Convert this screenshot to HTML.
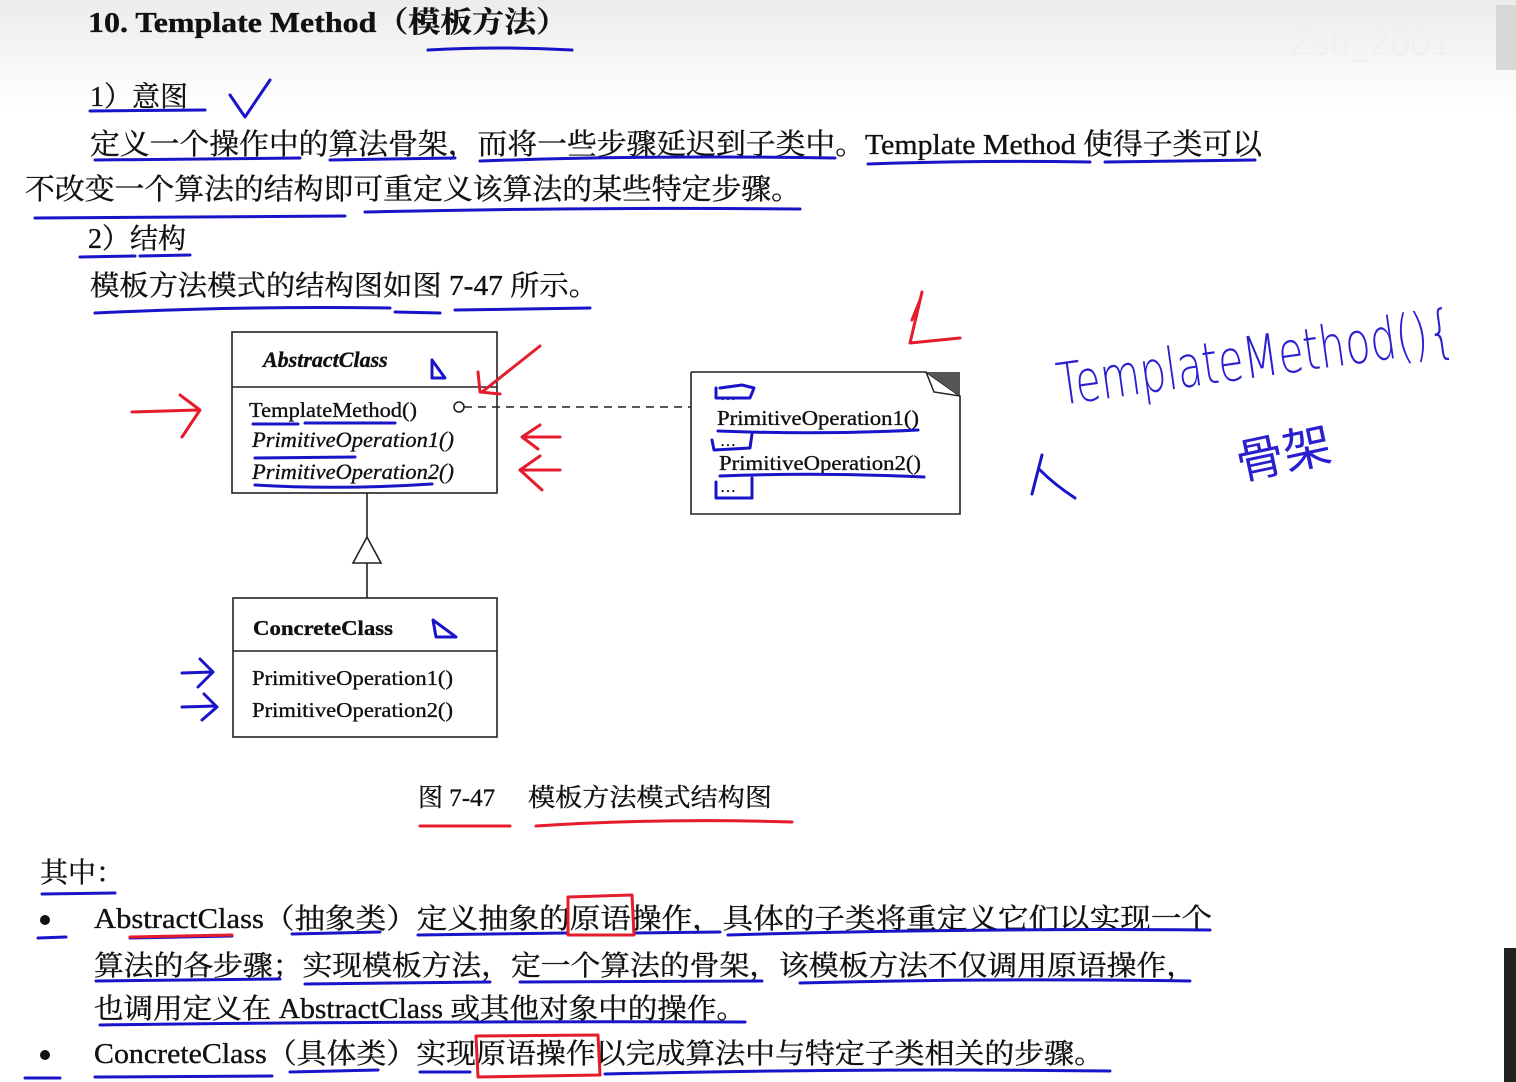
<!DOCTYPE html>
<html><head><meta charset="utf-8"><style>
html,body{margin:0;padding:0;background:#fff;}
svg{display:block;}
.t{font-family:"Liberation Serif","Noto Serif CJK SC",serif;fill:#111;stroke:#111;stroke-width:0.35;}
.b{stroke:#1a14c8;stroke-width:3;fill:none;stroke-linecap:round;stroke-linejoin:round;}
.r{stroke:#e41c2c;stroke-width:3;fill:none;stroke-linecap:round;stroke-linejoin:round;}
</style></head><body>
<svg width="1516" height="1082" viewBox="0 0 1516 1082" xmlns="http://www.w3.org/2000/svg">
<defs><linearGradient id="g" x1="0" y1="0" x2="0" y2="1"><stop offset="0" stop-color="#ececec"/><stop offset="1" stop-color="#fff"/></linearGradient></defs>
<rect width="1516" height="1082" fill="#fff"/>
<rect width="1516" height="110" fill="url(#g)"/>
<text x="1290" y="55" font-family="Liberation Sans,sans-serif" font-size="36" fill="#f0f0f0">Zsh_2001</text>
<rect x="1496" y="5" width="20" height="65" fill="#d8d8d8"/>
<rect x="1504" y="948" width="12" height="134" fill="#222"/>

<text class="t" x="88" y="32" font-size="29" font-weight="bold" textLength="480" lengthAdjust="spacingAndGlyphs">10.  Template Method（模板方法）</text>
<text class="t" x="90" y="106" font-size="28">1）意图</text>
<text class="t" x="90" y="154" font-size="29" textLength="1172" lengthAdjust="spacingAndGlyphs">定义一个操作中的算法骨架，而将一些步骤延迟到子类中。Template Method 使得子类可以</text>
<text class="t" x="25" y="199" font-size="29" textLength="776" lengthAdjust="spacingAndGlyphs">不改变一个算法的结构即可重定义该算法的某些特定步骤。</text>
<text class="t" x="88" y="248" font-size="28">2）结构</text>
<text class="t" x="90" y="295" font-size="28" textLength="508" lengthAdjust="spacingAndGlyphs">模板方法模式的结构图如图 7-47 所示。</text>

<g stroke="#222" stroke-width="1.6" fill="none">
<rect x="232" y="332" width="265" height="161"/>
<line x1="232" y1="387" x2="497" y2="387"/>
<rect x="233" y="598" width="264" height="139"/>
<line x1="233" y1="651" x2="497" y2="651"/>
<line x1="367" y1="493" x2="367" y2="537"/>
<polygon points="367,537 353,563 381,563"/>
<line x1="367" y1="563" x2="367" y2="598"/>
<polyline points="691,372 926,372 960,396 960,514 691,514 691,372"/>
<circle cx="459" cy="407" r="5"/>
<line x1="464" y1="407" x2="691" y2="407" stroke-dasharray="8,6"/>
</g>
<polygon points="926,372 960,372 960,396" fill="#555"/>
<polyline points="926,372 934,392 960,396" fill="none" stroke="#222" stroke-width="1.5"/>

<text class="t" x="263" y="367" font-size="22" font-style="italic" font-weight="bold">AbstractClass</text>
<text class="t" x="249" y="417" font-size="21" textLength="168" lengthAdjust="spacingAndGlyphs">TemplateMethod()</text>
<text class="t" x="252" y="447" font-size="22" font-style="italic" textLength="202" lengthAdjust="spacingAndGlyphs">PrimitiveOperation1()</text>
<text class="t" x="252" y="479" font-size="22" font-style="italic" textLength="202" lengthAdjust="spacingAndGlyphs">PrimitiveOperation2()</text>
<text class="t" x="253" y="635" font-size="21" font-weight="bold" textLength="140" lengthAdjust="spacingAndGlyphs">ConcreteClass</text>
<text class="t" x="252" y="685" font-size="21" textLength="201" lengthAdjust="spacingAndGlyphs">PrimitiveOperation1()</text>
<text class="t" x="252" y="717" font-size="21" textLength="201" lengthAdjust="spacingAndGlyphs">PrimitiveOperation2()</text>
<text class="t" x="720" y="400" font-size="16">…</text>
<text class="t" x="717" y="425" font-size="21" textLength="202" lengthAdjust="spacingAndGlyphs">PrimitiveOperation1()</text>
<text class="t" x="720" y="446" font-size="16">…</text>
<text class="t" x="719" y="470" font-size="21" textLength="202" lengthAdjust="spacingAndGlyphs">PrimitiveOperation2()</text>
<text class="t" x="720" y="492" font-size="16">…</text>

<text class="t" x="418" y="806" font-size="25">图 7-47</text>
<text class="t" x="528" y="806" font-size="25" textLength="244" lengthAdjust="spacingAndGlyphs">模板方法模式结构图</text>

<text class="t" x="40" y="882" font-size="28">其中：</text>
<circle cx="45" cy="920" r="5" fill="#111"/>
<text class="t" x="94" y="928" font-size="28" textLength="1118" lengthAdjust="spacingAndGlyphs">AbstractClass（抽象类）定义抽象的原语操作，具体的子类将重定义它们以实现一个</text>
<text class="t" x="94" y="975" font-size="28" textLength="1102" lengthAdjust="spacingAndGlyphs">算法的各步骤；实现模板方法，定一个算法的骨架，该模板方法不仅调用原语操作，</text>
<text class="t" x="94" y="1018" font-size="28" textLength="652" lengthAdjust="spacingAndGlyphs">也调用定义在 AbstractClass 或其他对象中的操作。</text>
<circle cx="45" cy="1055" r="5" fill="#111"/>
<text class="t" x="94" y="1063" font-size="28" textLength="1010" lengthAdjust="spacingAndGlyphs">ConcreteClass（具体类）实现原语操作以完成算法中与特定子类相关的步骤。</text>

<g class="b">
<path d="M428,50 Q500,46 572,50"/>
<path d="M90,111 L205,110"/><path d="M230,95 L245,117 L270,80"/>
<path d="M95,160 L300,158"/><path d="M330,160 L455,158"/><path d="M480,161 Q650,155 835,158"/><path d="M868,164 Q980,160 1090,162"/><path d="M1105,162 L1255,160"/>
<path d="M35,218 L345,216"/><path d="M365,212 Q580,207 800,209"/>
<path d="M80,257 L135,256"/><path d="M140,256 L190,255"/>
<path d="M95,313 Q240,306 390,308"/><path d="M395,312 L440,313"/><path d="M455,310 L590,308"/>
<path d="M253,424 L298,424"/><path d="M305,423 L395,423"/><path d="M255,458 L355,457"/><path d="M255,485 Q340,490 432,484"/>
<path d="M432,360 L432,378 L445,378 Z"/><path d="M433,620 L436,637 L456,637 Z"/>
<path d="M716,388 L716,398 L750,398 L754,388 L742,385 L720,388"/>
<path d="M718,431 Q820,435 918,430"/><path d="M712,440 L714,450 L750,448 L752,434"/>
<path d="M720,476 Q820,472 924,477"/><path d="M716,482 L716,498 L752,498 L752,478"/>
<path d="M182,673 L212,672 M200,659 L213,672 L198,687"/>
<path d="M182,707 L216,706 M204,694 L217,707 L202,720"/>
<path d="M1032,494 L1042,455 M1040,470 Q1055,485 1075,498"/>
<path d="M42,894 L115,893"/><path d="M38,938 L66,937"/><path d="M130,938 L232,936"/><path d="M292,934 L380,932"/><path d="M418,935 L568,933"/><path d="M635,933 L720,932"/><path d="M728,935 Q960,928 1210,930"/>
<path d="M96,981 L280,979"/><path d="M305,984 L490,982"/><path d="M520,982 L762,981"/><path d="M800,983 Q1000,978 1190,981"/>
<path d="M100,1025 Q400,1021 745,1022"/>
<path d="M25,1078 L60,1078"/><path d="M95,1077 L272,1076"/><path d="M290,1072 L378,1070"/><path d="M420,1072 L470,1072"/><path d="M605,1074 Q860,1068 1110,1071"/>
</g>
<text x="1060" y="405" font-family="DejaVu Sans,sans-serif" font-size="58" fill="#2a20d0" transform="rotate(-8 1060 405)" textLength="400" lengthAdjust="spacingAndGlyphs" font-weight="200">TemplateMethod(){</text>
<text x="1240" y="480" font-family="Noto Sans CJK SC,sans-serif" font-size="48" fill="#2a20d0" transform="rotate(-12 1240 480)">骨架</text>

<g class="r">
<path d="M132,412 L198,410 M180,395 L200,410 L182,437"/>
<path d="M540,346 L482,392 M478,372 L480,392 L500,394"/>
<path d="M922,292 L910,343 L960,338 M912,320 L920,300"/>
<path d="M560,437 L522,437 M540,425 L522,437 L538,449"/>
<path d="M560,470 L520,470 M540,456 L520,470 L542,490"/>
<path d="M420,826 L510,826"/><path d="M536,826 Q660,818 792,822"/>
<path d="M568,897 L632,895 L634,935 L568,935 Z"/>
<path d="M476,1036 L598,1035 L600,1075 L478,1077 Z"/>
<path d="M130,937 L232,935"/>
</g>
</svg>
</body></html>
